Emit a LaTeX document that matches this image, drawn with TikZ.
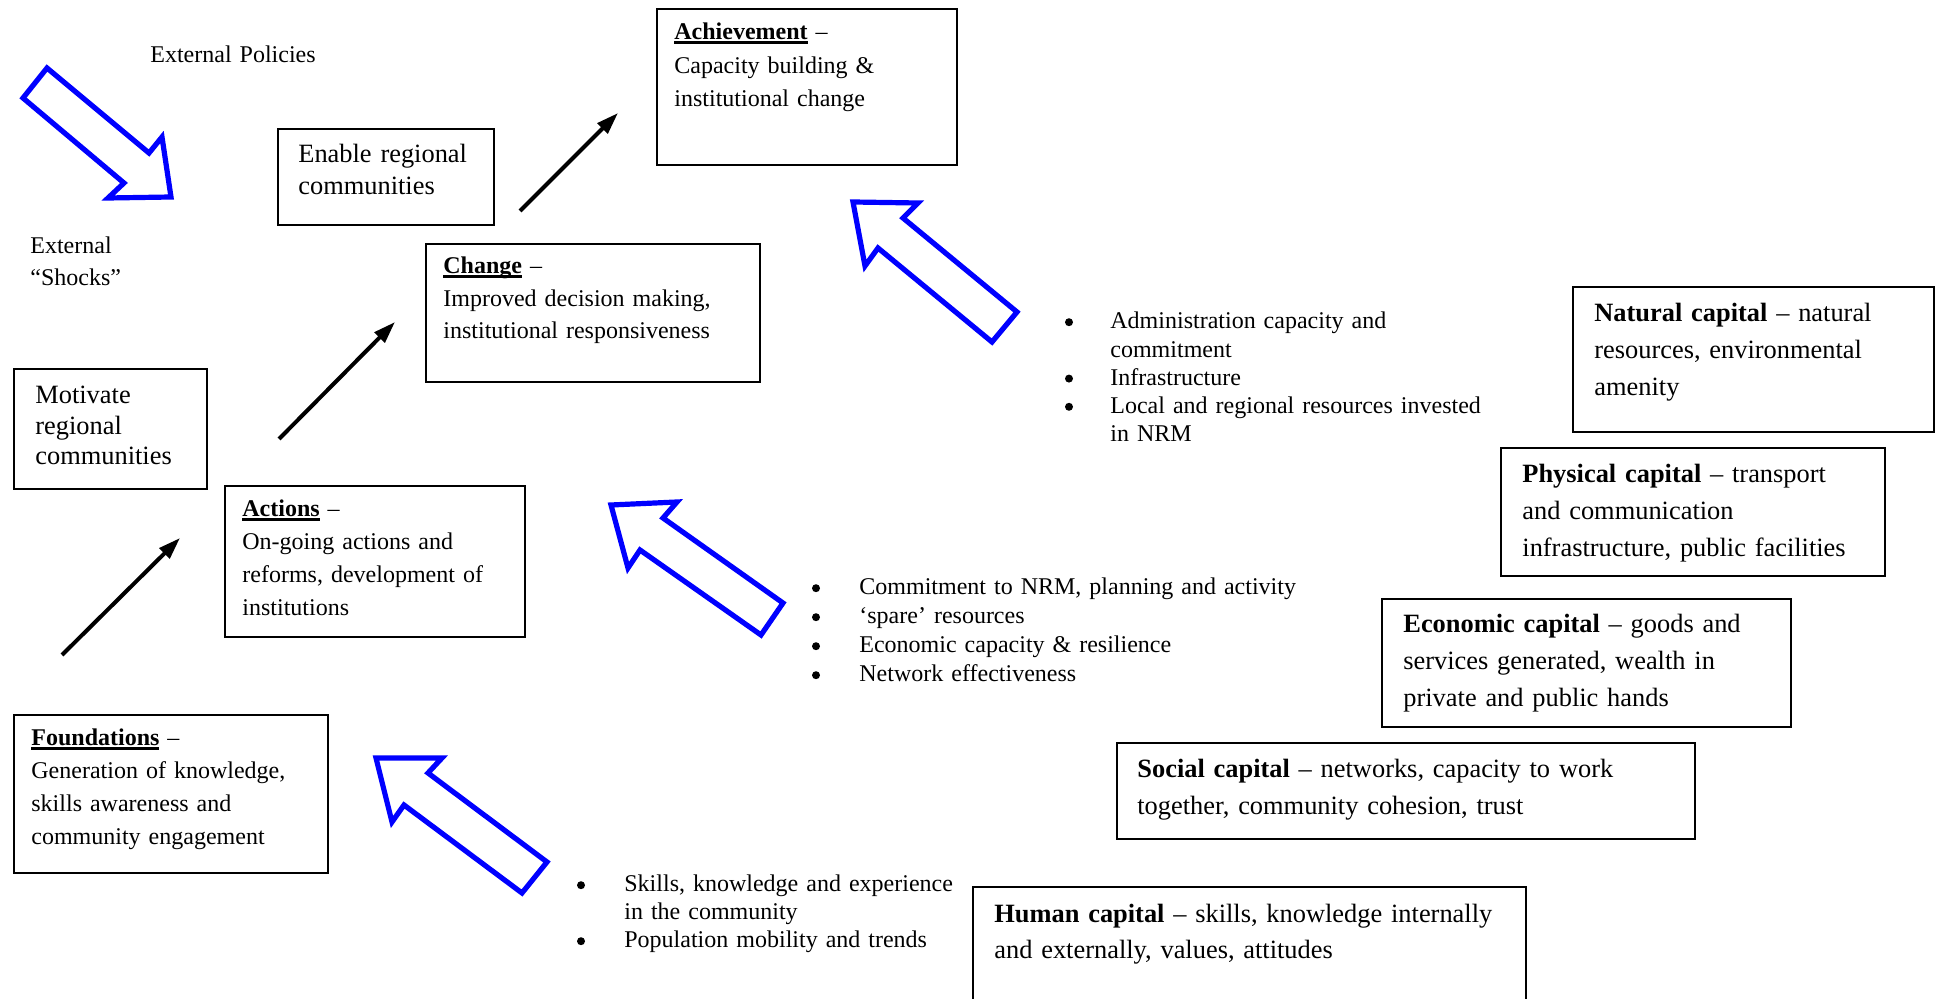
\documentclass[tikz,border=0pt]{standalone}
\usepackage{fontspec}
\setmainfont{Liberation Serif}
\usetikzlibrary{fit,arrows.meta}
\newcommand\ulhead[1]{\setbox0\hbox{\textbf{#1}}\rlap{\vrule width \wd0 height -0.7pt depth 2pt}\box0\relax}
\newcommand\bulitem[1]{\leavevmode\llap{\makebox[#1][l]{\kern0.3pt\tikz[baseline=-3.4pt,x=1pt,y=1pt]\fill (0,0) circle (2pt);}}}
\begin{document}
\begin{tikzpicture}[x=0.5pt,y=-0.5pt,
  box/.style={draw, line width=1.1pt, inner sep=0pt},
  txt/.style={anchor=base west, inner sep=0pt, text width=440pt, align=left},
  f12/.style={font=\fontsize{12}{16.5}\selectfont},
  fbig/.style={font=\fontsize{13.2}{18.4}\selectfont},
  blockarrow/.style={draw=blue, line width=2.6pt, line join=miter, fill=white},
  blackarrow/.style={line width=2pt, -{Triangle[length=11pt,width=7pt]}}
]
\useasboundingbox (0,0) rectangle (1935,999);
\fill[white] (0,0) rectangle (1935,999);

% ---- boxes ----
\node[box, fit={(657,9) (957,165)}] (ach) {};
\node[box, fit={(278,129) (494,225)}] (ena) {};
\node[box, fit={(426,244) (760,382)}] (chg) {};
\node[box, fit={(14,369) (207,489)}] (mot) {};
\node[box, fit={(225,486) (525,637)}] (act) {};
\node[box, fit={(14,715) (328,873)}] (fou) {};
\node[box, fit={(1573,287) (1934,432)}] (nat) {};
\node[box, fit={(1501,448) (1885,576)}] (phy) {};
\node[box, fit={(1382,599) (1791,727)}] (eco) {};
\node[box, fit={(1117,743) (1695,839)}] (soc) {};
\node[box, fit={(973,887) (1526,1010)}] (hum) {};

% ---- box texts ----
\node[txt, font=\fontsize{12}{16.75}\selectfont] (achT) at (674,40)
  {\ulhead{Achievement} –\\Capacity building \&\\institutional change};
\node[txt, font=\fontsize{13.2}{16}\selectfont] (enaT) at (298,163)
  {Enable regional\\communities};
\node[txt, font=\fontsize{12}{16.25}\selectfont] (chgT) at (443,274)
  {\ulhead{Change} –\\Improved decision making,\\institutional responsiveness};
\node[txt, font=\fontsize{13.2}{15.25}\selectfont] (motT) at (35,404)
  {Motivate\\regional\\communities};
\node[txt, f12] (actT) at (242,517)
  {\ulhead{Actions} –\\On-going actions and\\reforms, development of\\institutions};
\node[txt, f12] (fouT) at (31,746)
  {\ulhead{Foundations} –\\Generation of knowledge,\\skills awareness and\\community engagement};
\node[txt, fbig] (natT) at (1594,322)
  {\textbf{Natural capital} – natural\\resources, environmental\\amenity};
\node[txt, fbig] (phyT) at (1522,483)
  {\textbf{Physical capital} – transport\\and communication\\infrastructure, public facilities};
\node[txt, fbig] (ecoT) at (1403,633)
  {\textbf{Economic capital} – goods and\\services generated, wealth in\\private and public hands};
\node[txt, fbig] (socT) at (1137,778)
  {\textbf{Social capital} – networks, capacity to work\\together, community cohesion, trust};
\node[txt, font=\fontsize{13.2}{18}\selectfont] (humT) at (994,922)
  {\textbf{Human capital} – skills, knowledge internally\\and externally, values, attitudes};

% ---- free texts ----
\node[txt, f12] (extP) at (150,63) {External Policies};
\node[txt, font=\fontsize{12}{16}\selectfont] (extS) at (30,254) {External\\“Shocks”};

% ---- bullet lists ----
\node[txt, font=\fontsize{12}{14.1}\selectfont] (list1) at (1110,329)
  {\bulitem{23pt}Administration capacity and\\commitment\\
   \bulitem{23pt}Infrastructure\\
   \bulitem{23pt}Local and regional resources invested\\in NRM};
\node[txt, font=\fontsize{12}{14.5}\selectfont] (list2) at (859,595)
  {\bulitem{24pt}Commitment to NRM, planning and activity\\
   \bulitem{24pt}‘spare’ resources\\
   \bulitem{24pt}Economic capacity \& resilience\\
   \bulitem{24pt}Network effectiveness};
\node[txt, font=\fontsize{12}{14}\selectfont] (list3) at (624,892)
  {\bulitem{24pt}Skills, knowledge and experience\\in the community\\
   \bulitem{24pt}Population mobility and trends};

% ---- black arrows ----
\coordinate (a1s) at (520,211); \coordinate (a1e) at (618,113);
\coordinate (a2s) at (279,439); \coordinate (a2e) at (395,322);
\coordinate (a3s) at (62,655);  \coordinate (a3e) at (180,538);
\draw[blackarrow] (a1s) -- (a1e);
\draw[blackarrow] (a2s) -- (a2e);
\draw[blackarrow] (a3s) -- (a3e);

% ---- blue block arrows ----
\draw[blockarrow] (23,98) -- (47,68) -- (149,153) -- (162,137) -- (171,197) -- (108,198) -- (124,183) -- cycle;
\draw[blockarrow] (853,202) -- (918,203) -- (903,218) -- (1017,312) -- (992,342) -- (878,248) -- (865,266) -- cycle;
\draw[blockarrow] (611,505) -- (677,502) -- (663,518) -- (783,603) -- (761,635) -- (640,550) -- (628,568) -- cycle;
\draw[blockarrow] (376,758) -- (442,758) -- (428,773) -- (547,862) -- (522,893) -- (404,805) -- (392,822) -- cycle;
\end{tikzpicture}
\end{document}
